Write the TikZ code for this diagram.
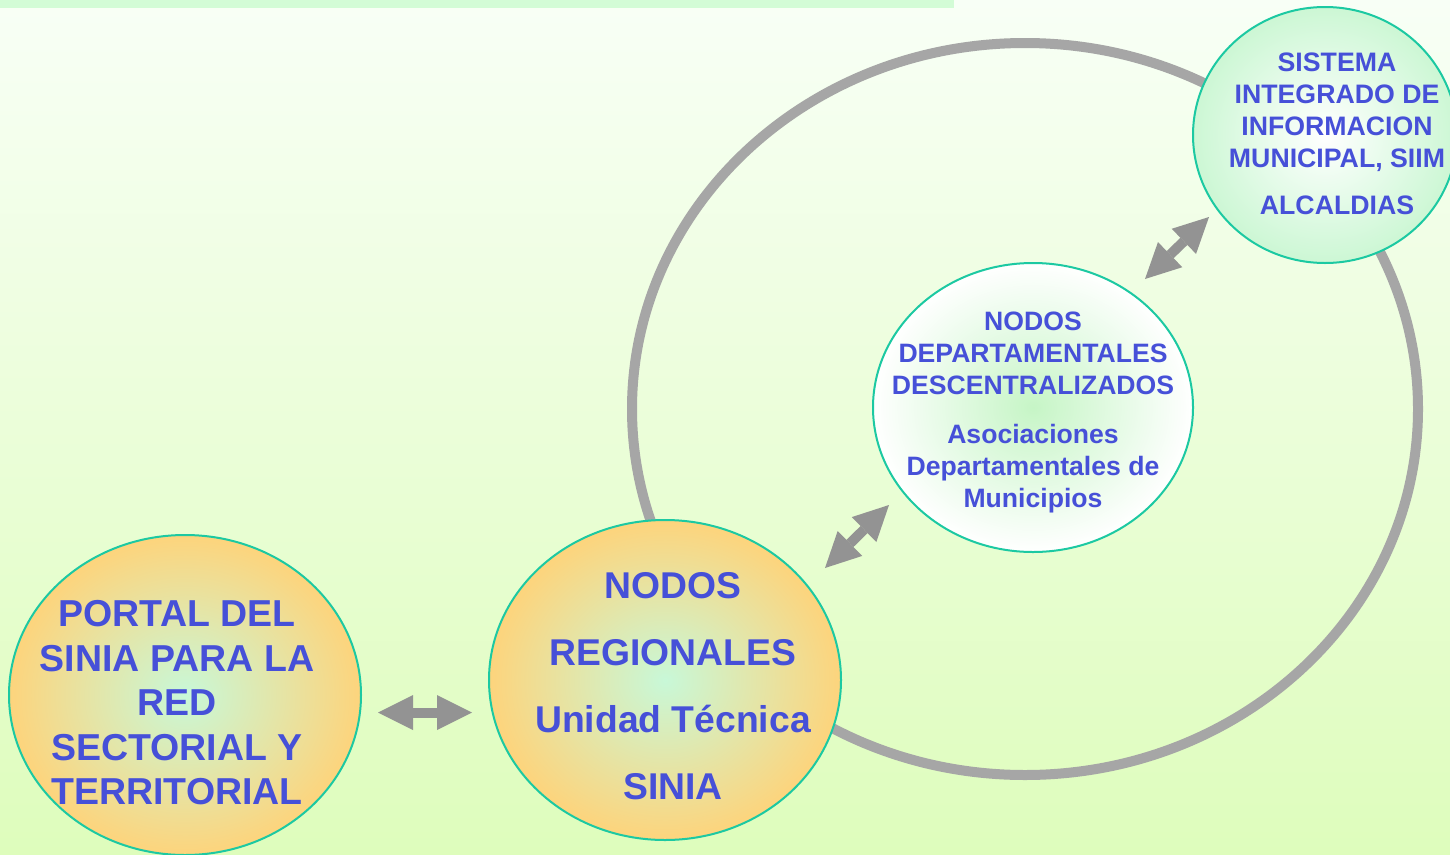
\documentclass[tikz,border=0pt]{standalone}
\usepackage{fontspec}
\setmainfont{Liberation Sans}
\usepackage{tikz}
\usetikzlibrary{
	shapes.geometric,
	positioning,
	arrows.meta
}
\definecolor{bgtop}{HTML}{F8FFF6}
\definecolor{bgbottom}{HTML}{DEFDBC}
\definecolor{band}{HTML}{D3FCD6}
\definecolor{ringgray}{HTML}{A6A6A6}
\definecolor{arrowgray}{HTML}{939393}
\definecolor{edgeteal}{HTML}{1CC9A2}
\definecolor{txtblue}{HTML}{4650D8}
\definecolor{peach}{HTML}{FDD47C}
\definecolor{mint}{HTML}{C8F8D8}
\definecolor{softgreen}{HTML}{C6F5C6}
\definecolor{paleedge}{HTML}{CCF7D4}
\tikzset{
	bubble/.style={
		ellipse,
		draw=edgeteal,
		line width=2pt,
		inner sep=0pt
	},
	orangebubble/.style={
		bubble,
		shading=radial,
		inner color=mint,
		outer color=peach,
		minimum width=352pt,
		minimum height=320pt
	},
	label text/.style={
		text=txtblue,
		align=center,
		inner sep=0pt
	},
	link/.style={
		draw=arrowgray,
		line width=10pt,
		{Triangle[length=35pt,width=35pt,line width=0pt]}-{Triangle[length=35pt,width=35pt,line width=0pt]}
	}
}

\begin{document}
\begin{tikzpicture}[x=1pt,y=-1pt]
		\useasboundingbox (0,0) rectangle (1450,854);
		\fill[top color=bgtop,bottom color=bgbottom] (0,0) rectangle (1450,854);
		\fill[band] (0,0) rectangle (954,7.5);

		% outer ring
		\draw[ringgray,line width=10pt] (1025,409) ellipse [x radius=393,y radius=366];

		\draw
			node[orangebubble]                    (portal)   at (185,695)  {}
			node[orangebubble]                    (regional) at (665,680)  {}
			node[bubble,shading=radial,inner color=softgreen,outer color=white,
				minimum width=320pt,minimum height=289pt] (depto) at (1033,407.5) {}
			node[bubble,shading=radial,inner color=white,outer color=paleedge,
				minimum width=264pt,minimum height=256pt] (siim) at (1325,135) {}
		;

		\node[label text,font=\bfseries\fontsize{37.5}{44.5}\selectfont]
			(portal-text) at (177,703) {PORTAL DEL\\SINIA PARA LA\\RED\\SECTORIAL Y\\TERRITORIAL};
		\node[label text,font=\bfseries\fontsize{37.3}{67}\selectfont]
			(regional-text) at (673,686) {NODOS\\REGIONALES\\Unidad Técnica\\SINIA};
		\node[label text,font=\bfseries\fontsize{26.6}{32}\selectfont]
			(depto-text) at (1033,412) {NODOS\\DEPARTAMENTALES\\DESCENTRALIZADOS\\[17pt]Asociaciones\\Departamentales de\\Municipios};
		\node[label text,font=\bfseries\fontsize{26.7}{32}\selectfont]
			(siim-text) at (1337,134) {SISTEMA\\INTEGRADO DE\\INFORMACION\\MUNICIPAL, SIIM\\[15pt]ALCALDIAS};

		% arrow ends
		\coordinate (pr1) at (378,712.5);
		\coordinate (pr2) at (472,712.5);
		\coordinate (rd1) at (825,568);
		\coordinate (rd2) at (889,505);
		\coordinate (ds1) at (1145,279);
		\coordinate (ds2) at (1209,217);

		\path[link] (pr1) -- (pr2);
		\path[link] (rd1) -- (rd2);
		\path[link] (ds1) -- (ds2);
	\end{tikzpicture}
\end{document}
